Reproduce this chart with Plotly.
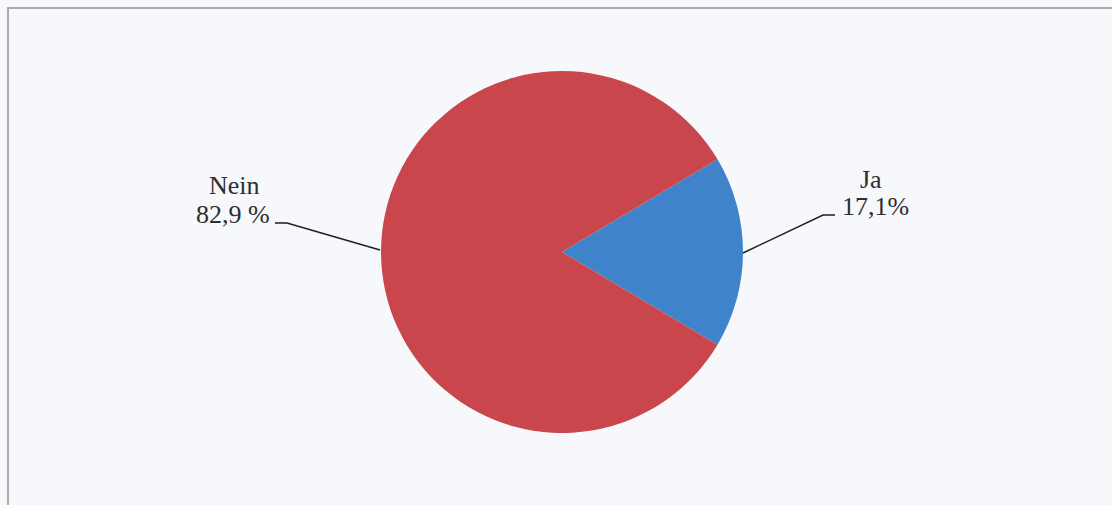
import math
import plotly.graph_objects as go

labels = ["Ja", "Nein"]
values = [17.1, 82.9]
name_texts = ["Ja", "Nein"]
value_texts = ["17,1%", "82,9 %"]
colors = ["#3f83cb", "#c9474c"]

W, H = 1112, 505
cx, cy, r = 562, 252, 181

total = sum(values)
rotation = 90 - 360 * values[0] / total / 2

fig = go.Figure()
fig.add_trace(go.Pie(
    labels=labels, values=values, sort=False, direction="clockwise",
    rotation=rotation, marker=dict(colors=colors, line=dict(width=0)),
    textinfo="none", hoverinfo="label+percent", showlegend=False,
    domain=dict(x=[(cx - r) / W, (cx + r) / W], y=[(H - cy - r) / H, (H - cy + r) / H]),
))

# leader lines and labels computed from slice mid-angles
angle = rotation
line_style = dict(color="#1e1e1e", width=1.5)
font = dict(family="Liberation Serif", size=26, color="#2e2e2e")
for i, v in enumerate(values):
    span = 360 * v / total
    mid = angle + span / 2
    angle += span
    a = math.radians(mid)
    ex, ey = cx + r * math.sin(a), cy - r * math.cos(a)
    side = 1 if math.sin(a) > 0 else -1
    if side > 0:
        sx, sy = ex, ey + 1
        kx, ky = ex + 80, ey - 37
        tx = kx + 12
        nx, ny = kx + 48, ky - 36
        vx, vy = kx + 52, ky - 9
    else:
        sx, sy = ex - 1, ey - 2
        kx, ky = ex - 94, ey - 29
        tx = kx - 12
        nx, ny = kx - 53, ky - 38
        vx, vy = kx - 54, ky - 9
    fig.add_trace(go.Scatter(x=[sx, kx, tx], y=[sy, ky, ky],
                             mode="lines", line=line_style, hoverinfo="skip",
                             showlegend=False))
    fig.add_annotation(x=nx, y=ny, text=name_texts[i], showarrow=False, font=font,
                       xanchor="center", yanchor="middle")
    fig.add_annotation(x=vx, y=vy, text=value_texts[i], showarrow=False, font=font,
                       xanchor="center", yanchor="middle")

fig.add_shape(type="rect", x0=8, y0=8, x1=W + 20, y1=H + 20,
              line=dict(color="#a9a9a9", width=2), fillcolor="rgba(0,0,0,0)", layer="below")

fig.update_layout(
    width=W, height=H, margin=dict(l=0, r=0, t=0, b=0),
    paper_bgcolor="#f6f8fb", plot_bgcolor="#f6f8fb",
    xaxis=dict(range=[0, W], visible=False, fixedrange=True),
    yaxis=dict(range=[H, 0], visible=False, fixedrange=True),
)
fig.write_html("out.html", config={"displayModeBar": False},
               post_script="document.body.style.margin='0';document.body.style.overflow='hidden';")
